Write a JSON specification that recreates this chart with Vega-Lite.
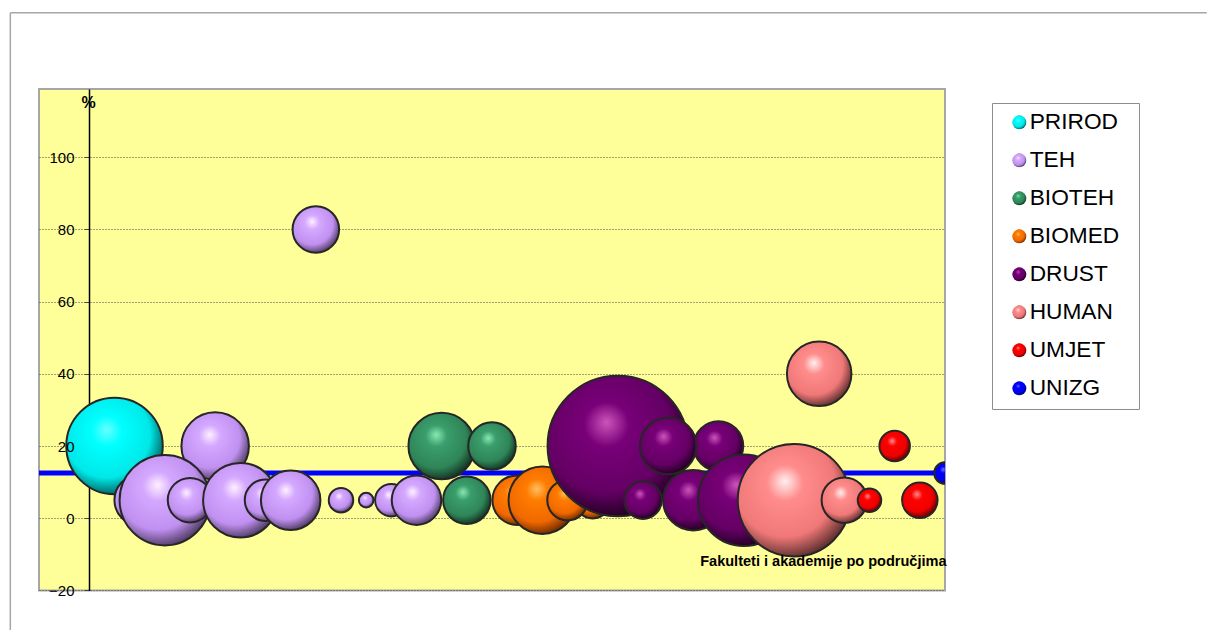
{
"$schema":"https://vega.github.io/schema/vega-lite/v6.json",
"autosize":"none",
"width":906,"height":501.4,
"padding":{"left":39,"top":89,"right":262,"bottom":40},
"background":"#ffffff",
"config":{"view":{"fill":"#ffff99","stroke":"#a6a6a6","strokeWidth":2},"font":"Liberation Sans"},
"resolve":{"axis":{"y":"independent","x":"independent"}},
"datasets":{"mehurici":[
{"fakultet":1,"podrucje":"PRIROD","postotak":20,"velicina":2328},
{"fakultet":2,"podrucje":"TEH","postotak":5,"velicina":638},
{"fakultet":5,"podrucje":"TEH","postotak":20,"velicina":1139},
{"fakultet":3,"podrucje":"TEH","postotak":5,"velicina":2048},
{"fakultet":4,"podrucje":"TEH","postotak":5,"velicina":495},
{"fakultet":6,"podrucje":"TEH","postotak":5,"velicina":1388},
{"fakultet":7,"podrucje":"TEH","postotak":5,"velicina":431},
{"fakultet":8,"podrucje":"TEH","postotak":5,"velicina":885},
{"fakultet":9,"podrucje":"TEH","postotak":80,"velicina":541},
{"fakultet":10,"podrucje":"TEH","postotak":5,"velicina":150},
{"fakultet":11,"podrucje":"TEH","postotak":5,"velicina":53},
{"fakultet":12,"podrucje":"TEH","postotak":5,"velicina":264},
{"fakultet":13,"podrucje":"TEH","postotak":5,"velicina":613},
{"fakultet":14,"podrucje":"BIOTEH","postotak":20,"velicina":1106},
{"fakultet":15,"podrucje":"BIOTEH","postotak":5,"velicina":564},
{"fakultet":16,"podrucje":"BIOTEH","postotak":20,"velicina":564},
{"fakultet":17,"podrucje":"BIOMED","postotak":5,"velicina":613},
{"fakultet":18,"podrucje":"BIOMED","postotak":5,"velicina":1139},
{"fakultet":20,"podrucje":"BIOMED","postotak":5,"velicina":333},
{"fakultet":19,"podrucje":"BIOMED","postotak":5,"velicina":410},
{"fakultet":21,"podrucje":"DRUST","postotak":20,"velicina":4935},
{"fakultet":22,"podrucje":"DRUST","postotak":5,"velicina":352},
{"fakultet":24,"podrucje":"DRUST","postotak":5,"velicina":915},
{"fakultet":25,"podrucje":"DRUST","postotak":20,"velicina":613},
{"fakultet":23,"podrucje":"DRUST","postotak":20,"velicina":798},
{"fakultet":26,"podrucje":"DRUST","postotak":5,"velicina":2093},
{"fakultet":28,"podrucje":"HUMAN","postotak":5,"velicina":3164},
{"fakultet":29,"podrucje":"HUMAN","postotak":40,"velicina":1040},
{"fakultet":30,"podrucje":"HUMAN","postotak":5,"velicina":518},
{"fakultet":31,"podrucje":"UMJET","postotak":5,"velicina":138},
{"fakultet":32,"podrucje":"UMJET","postotak":20,"velicina":233},
{"fakultet":33,"podrucje":"UMJET","postotak":5,"velicina":315},
{"fakultet":34,"podrucje":"UNIZG","postotak":12.5,"velicina":116}
]},
"data":{"name":"mehurici"},
"encoding":{
"x":{"field":"fakultet","type":"quantitative","scale":{"domain":[-2,34],"nice":false,"zero":false},"axis":null},
"y":{"field":"postotak","type":"quantitative","scale":{"domain":[-20,118.9],"nice":false,"zero":false},"axis":null},
"size":{"field":"velicina","type":"quantitative","scale":{"domain":[0,5000],"range":[0,20000]},"legend":null}
},
"layer":[
{"data":{"values":[{"a":-3.14,"b":140,"c":-31.5}]},"mark":{"type":"rule","color":"#a6a6a6","strokeWidth":1.5,"clip":false},
 "encoding":{"size":null,"x":{"field":"a","type":"quantitative","scale":{"domain":[-2,34],"nice":false,"zero":false},"axis":null},"y":{"field":"b","type":"quantitative","scale":{"domain":[-20,118.9],"nice":false,"zero":false},"axis":null},"y2":{"field":"c"}}},
{"data":{"values":[{"a":-3.14,"b":140,"c":44.4}]},"mark":{"type":"rule","color":"#a6a6a6","strokeWidth":1.5,"clip":false},
 "encoding":{"size":null,"x":{"field":"a","type":"quantitative","scale":{"domain":[-2,34],"nice":false,"zero":false},"axis":null},"x2":{"field":"c"},"y":{"field":"b","type":"quantitative","scale":{"domain":[-20,118.9],"nice":false,"zero":false},"axis":null}}},
{"data":{"values":[{"prosjek":12.5}]},"mark":{"type":"rule","color":"#0000ff","strokeWidth":5},
 "encoding":{"size":null,"x":null,"y":{"field":"prosjek","type":"quantitative","scale":{"domain":[-20,118.9],"nice":false,"zero":false},
  "axis":{"title":null,"orient":"left","offset":-50,"values":[-20,0,20,40,60,80,100],"labels":false,"grid":true,"gridDash":[1,2],"gridColor":"#444444","gridWidth":1,"gridOpacity":1,"domain":true,"domainColor":"#000000","domainWidth":1.5,"ticks":true,"tickColor":"#444444","tickSize":5,"tickWidth":1,"zindex":0}}}},
{"transform":[{"filter":"datum.podrucje==='PRIROD'"}],"mark":{"type":"point","shape":"circle","filled":true,"opacity":1,"stroke":"#262626","strokeWidth":2,"clip":true,"fill":{"gradient":"radial","x1":0.42,"y1":0.33,"r1":0,"x2":0.42,"y2":0.4,"r2":0.64,"stops":[{"offset":0,"color":"#66ffff"},{"offset":0.25,"color":"#00ffff"},{"offset":0.7,"color":"#00e8e8"},{"offset":1,"color":"#005050"}]}}},
{"transform":[{"filter":"datum.podrucje==='TEH'"}],"mark":{"type":"point","shape":"circle","filled":true,"opacity":1,"stroke":"#262626","strokeWidth":2,"clip":true,"fill":{"gradient":"radial","x1":0.42,"y1":0.33,"r1":0,"x2":0.42,"y2":0.4,"r2":0.64,"stops":[{"offset":0,"color":"#fff0ff"},{"offset":0.25,"color":"#d4a8ff"},{"offset":0.7,"color":"#c090f0"},{"offset":1,"color":"#443355"}]}}},
{"transform":[{"filter":"datum.podrucje==='BIOTEH'"}],"mark":{"type":"point","shape":"circle","filled":true,"opacity":1,"stroke":"#262626","strokeWidth":2,"clip":true,"fill":{"gradient":"radial","x1":0.42,"y1":0.33,"r1":0,"x2":0.42,"y2":0.4,"r2":0.64,"stops":[{"offset":0,"color":"#88e8b0"},{"offset":0.25,"color":"#3a9e6c"},{"offset":0.7,"color":"#2f8558"},{"offset":1,"color":"#0f2c1e"}]}}},
{"transform":[{"filter":"datum.podrucje==='BIOMED'"}],"mark":{"type":"point","shape":"circle","filled":true,"opacity":1,"stroke":"#262626","strokeWidth":2,"clip":true,"fill":{"gradient":"radial","x1":0.42,"y1":0.33,"r1":0,"x2":0.42,"y2":0.4,"r2":0.64,"stops":[{"offset":0,"color":"#ffc060"},{"offset":0.25,"color":"#ff7c00"},{"offset":0.7,"color":"#f06800"},{"offset":1,"color":"#602400"}]}}},
{"transform":[{"filter":"datum.podrucje==='DRUST'"}],"mark":{"type":"point","shape":"circle","filled":true,"opacity":1,"stroke":"#262626","strokeWidth":2,"clip":true,"fill":{"gradient":"radial","x1":0.42,"y1":0.33,"r1":0,"x2":0.42,"y2":0.4,"r2":0.64,"stops":[{"offset":0,"color":"#cc55bb"},{"offset":0.25,"color":"#780078"},{"offset":0.7,"color":"#640064"},{"offset":1,"color":"#180018"}]}}},
{"transform":[{"filter":"datum.podrucje==='HUMAN'"}],"mark":{"type":"point","shape":"circle","filled":true,"opacity":1,"stroke":"#262626","strokeWidth":2,"clip":true,"fill":{"gradient":"radial","x1":0.42,"y1":0.33,"r1":0,"x2":0.42,"y2":0.4,"r2":0.64,"stops":[{"offset":0,"color":"#fff0f0"},{"offset":0.25,"color":"#ff8c8c"},{"offset":0.7,"color":"#f07878"},{"offset":1,"color":"#502828"}]}}},
{"transform":[{"filter":"datum.podrucje==='UMJET'"}],"mark":{"type":"point","shape":"circle","filled":true,"opacity":1,"stroke":"#262626","strokeWidth":2,"clip":true,"fill":{"gradient":"radial","x1":0.42,"y1":0.33,"r1":0,"x2":0.42,"y2":0.4,"r2":0.64,"stops":[{"offset":0,"color":"#ff9090"},{"offset":0.25,"color":"#ff0000"},{"offset":0.7,"color":"#f00000"},{"offset":1,"color":"#500000"}]}}},
{"transform":[{"filter":"datum.podrucje==='UNIZG'"}],"mark":{"type":"point","shape":"circle","filled":true,"opacity":1,"stroke":"#262626","strokeWidth":2,"clip":true,"fill":{"gradient":"radial","x1":0.42,"y1":0.33,"r1":0,"x2":0.42,"y2":0.4,"r2":0.64,"stops":[{"offset":0,"color":"#7070ff"},{"offset":0.25,"color":"#0000ff"},{"offset":0.7,"color":"#0000f0"},{"offset":1,"color":"#000050"}]}}},
{"mark":{"type":"point","filled":true,"opacity":0},
"encoding":{
"size":null,
"x":{"field":"fakultet","type":"quantitative","scale":{"domain":[-2,34],"nice":false,"zero":false},
 "axis":{"orient":"bottom","title":"Fakulteti i akademije po područjima","titleFont":"Liberation Sans","titleFontSize":14.55,"titleFontWeight":"bold","titleColor":"#000000","titleAnchor":null,"titleAlign":"right","titleBaseline":"middle","titleX":907,"titleY":-29,"labels":false,"ticks":false,"domain":false,"grid":false,"zindex":1}},
"y":{"field":"postotak","type":"quantitative","scale":{"domain":[-20,118.9],"nice":false,"zero":false},
 "axis":{"orient":"left","offset":-50,"title":"%","titleFont":"Liberation Sans","titleFontSize":16,"titleFontWeight":"bold","titleColor":"#000000","titleAngle":0,"titleAlign":"center","titleBaseline":"middle","titleX":-1,"titleY":14,"values":[-20,0,20,40,60,80,100],"labelFont":"Liberation Sans","labelFontSize":15,"labelColor":"#000000","labelPadding":15,"labelOverlap":false,"labelBound":false,"labelFlush":false,"domain":false,"ticks":false,"grid":false,"zindex":1}},
"shape":{"field":"podrucje","type":"nominal","scale":{"domain":["PRIROD","TEH","BIOTEH","BIOMED","DRUST","HUMAN","UMJET","UNIZG"],"range":["circle","circle","circle","circle","circle","circle","circle","circle"]},
 "legend":{"orient":"none","legendX":953,"legendY":14,"title":"\u00a0","titleOrient":"right","titlePadding":11.5,"titleFontSize":1,"fillColor":"#ffffff","strokeColor":"#8c8c8c","padding":8,"symbolSize":196,"symbolOpacity":1,"symbolStrokeColor":"#262626","symbolStrokeWidth":2,"symbolOffset":8,"labelOffset":-1,"labelFont":"Liberation Sans","labelFontSize":22.7,"labelColor":"#000000","rowPadding":14,"labelLimit":300,
 "encoding":{"symbols":{"opacity":{"value":1},"fill":{"value":{"signal":"{PRIROD:{gradient:'radial',x1:0.42,y1:0.33,r1:0,x2:0.42,y2:0.4,r2:0.64,stops:[{offset:0,color:'#66ffff'},{offset:0.25,color:'#00ffff'},{offset:0.7,color:'#00e8e8'},{offset:1,color:'#005050'}]},TEH:{gradient:'radial',x1:0.42,y1:0.33,r1:0,x2:0.42,y2:0.4,r2:0.64,stops:[{offset:0,color:'#fff0ff'},{offset:0.25,color:'#d4a8ff'},{offset:0.7,color:'#c090f0'},{offset:1,color:'#443355'}]},BIOTEH:{gradient:'radial',x1:0.42,y1:0.33,r1:0,x2:0.42,y2:0.4,r2:0.64,stops:[{offset:0,color:'#88e8b0'},{offset:0.25,color:'#3a9e6c'},{offset:0.7,color:'#2f8558'},{offset:1,color:'#0f2c1e'}]},BIOMED:{gradient:'radial',x1:0.42,y1:0.33,r1:0,x2:0.42,y2:0.4,r2:0.64,stops:[{offset:0,color:'#ffc060'},{offset:0.25,color:'#ff7c00'},{offset:0.7,color:'#f06800'},{offset:1,color:'#602400'}]},DRUST:{gradient:'radial',x1:0.42,y1:0.33,r1:0,x2:0.42,y2:0.4,r2:0.64,stops:[{offset:0,color:'#cc55bb'},{offset:0.25,color:'#780078'},{offset:0.7,color:'#640064'},{offset:1,color:'#180018'}]},HUMAN:{gradient:'radial',x1:0.42,y1:0.33,r1:0,x2:0.42,y2:0.4,r2:0.64,stops:[{offset:0,color:'#fff0f0'},{offset:0.25,color:'#ff8c8c'},{offset:0.7,color:'#f07878'},{offset:1,color:'#502828'}]},UMJET:{gradient:'radial',x1:0.42,y1:0.33,r1:0,x2:0.42,y2:0.4,r2:0.64,stops:[{offset:0,color:'#ff9090'},{offset:0.25,color:'#ff0000'},{offset:0.7,color:'#f00000'},{offset:1,color:'#500000'}]},UNIZG:{gradient:'radial',x1:0.42,y1:0.33,r1:0,x2:0.42,y2:0.4,r2:0.64,stops:[{offset:0,color:'#7070ff'},{offset:0.25,color:'#0000ff'},{offset:0.7,color:'#0000f0'},{offset:1,color:'#000050'}]}}[datum.value]"}}}}}}
}}
]
}
